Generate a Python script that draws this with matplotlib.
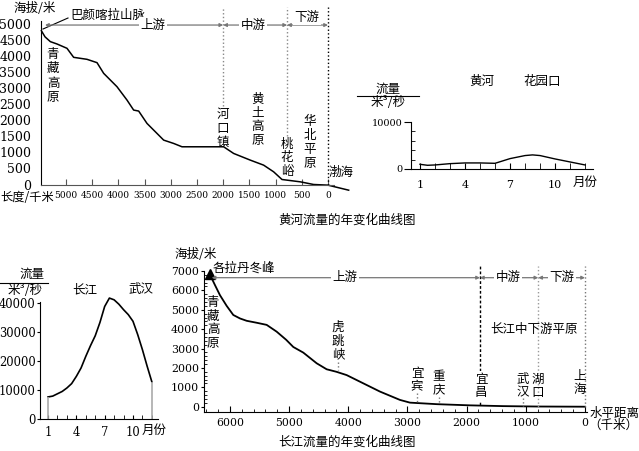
import matplotlib
matplotlib.use("Agg")
import matplotlib.pyplot as plt

plt.rcParams['font.family'] = ['Noto Sans CJK SC', 'DejaVu Sans']
plt.rcParams['font.size'] = 9

# 黄河纵剖面：距河口长度(千米)、海拔(米)
hh_km = [5470, 5400, 5299, 5172, 4981, 4854, 4599, 4408, 4281, 4154, 4027, 3836,
         3709, 3613, 3454, 3263, 3136, 2945, 2786, 2436, 1991, 1800, 1482, 1228,
         1037, 878, 528, 274, 0, -395]
hh_elev = [4790, 4600, 4451, 4378, 4243, 3962, 3900, 3796, 3463, 3255, 3047, 2631,
           2319, 2288, 1903, 1591, 1383, 1279, 1175, 1175, 1175, 967, 759, 603,
           395, 156, 83, 0, -20, -177]
hh_bounds = [2000, 780, 0]          # 上游/中游/下游 分界

# 黄河 花园口 流量(米³/秒)
hyk_month = [1, 1.5, 2, 3, 4, 5, 6, 7, 8, 8.5, 9, 10, 11, 12]
hyk_flow = [1000, 790, 860, 1140, 1290, 1290, 1210, 2210, 2860, 3000, 2860, 2140, 1500, 860]

# 长江 武汉 流量(米³/秒)
wh_month = [1, 1.5, 2, 2.5, 3, 3.5, 4, 4.5, 5, 5.5, 6, 6.5, 7, 7.5, 8, 8.5, 9, 9.5,
            10, 10.5, 11, 11.5, 12]
wh_flow = [7600, 7900, 8700, 9500, 10700, 12200, 14700, 17600, 21600, 25300, 28700,
           33300, 38800, 41700, 41100, 39600, 37700, 36000, 33700, 29100, 23900,
           18200, 12800]

# 长江纵剖面：水平距离(千米)、海拔(米)
cj_km = [6345, 6250, 6169, 6056, 5944, 5830, 5718, 5550, 5380, 5211, 5050, 4930,
         4761, 4535, 4366, 4200, 4028, 3803, 3465, 3127, 2958, 2500, 1944, 1380, 817, 0]
cj_elev = [6850, 6250, 5750, 5200, 4730, 4550, 4430, 4330, 4220, 3870, 3450, 3080,
           2790, 2240, 1930, 1800, 1630, 1290, 780, 350, 210, 130, 70, 30, 10, 0]
cj_bounds = [1775, 790, 0]          # 宜昌、湖口、上海

W, H = 639, 451
fig = plt.figure(figsize=(6.39, 4.51), dpi=100)


def box(l, t, r, b):
    return [l / W, 1 - b / H, (r - l) / W, (b - t) / H]


def put(x, y, s, ha='center', va='center', **kw):
    fig.text(x / W, 1 - y / H, s, ha=ha, va=va, **kw)


def vput(x, y, s, sp=1.08, **kw):
    put(x, y, '\n'.join(s), linespacing=sp, **kw)


white = dict(fc='white', ec='none', pad=1)
serif = 'DejaVu Serif'


def span(ax, x0, x1, y):
    ax.annotate('', xy=(x1, y), xytext=(x0, y),
                arrowprops=dict(arrowstyle='<|-|>', color='#777', lw=0.9,
                                mutation_scale=5, shrinkA=0, shrinkB=0))


# ---------- 黄河纵剖面 ----------
ax1 = fig.add_axes(box(41, 7, 334, 184.5))
ax1.set_xlim(5477, -115)
ax1.set_ylim(0, 5530)
ax1.plot(hh_km, hh_elev, color='k', lw=1.1, clip_on=False)
for s in ['top', 'right']:
    ax1.spines[s].set_visible(False)
ax1.spines['left'].set_bounds(0, 5100)
ax1.spines['bottom'].set_color('#555')
ax1.set_yticks(range(0, 5001, 500))
ax1.set_yticks(range(0, 5001, 1000), minor=True)
ax1.tick_params(axis='y', which='major', length=0, pad=7, labelsize=9, labelfontfamily=serif)
ax1.tick_params(axis='y', which='minor', length=5, direction='out')
ax1.set_xticks(range(0, 5001, 500))
ax1.tick_params(axis='x', direction='in', length=4, pad=5, labelsize=6.5,
                labelfontfamily=serif, color='#555')
ax1.plot([hh_bounds[0]] * 2, [2445, 5530], color='#888', ls=':', lw=1)
ax1.plot([hh_bounds[1]] * 2, [1511, 5530], color='#888', ls=':', lw=1)
ax1.plot([hh_bounds[2]] * 2, [0, 5530], color='k', ls=':', lw=1)
span(ax1, 5400, hh_bounds[0], 4968)
span(ax1, hh_bounds[0], hh_bounds[1], 4968)
span(ax1, hh_bounds[1], hh_bounds[2], 4968)
ax1.plot([5439, 4962], [4844, 5187], color='k', lw=0.8)

put(35, 8, '海拔/米')
put(70, 15, '巴颜喀拉山脉', ha='left')
put(153, 25, '上游', bbox=white)
put(253, 25, '中游', bbox=white)
put(307, 17, '下游', bbox=white)
vput(53, 76, '青藏高原', sp=1.13)
vput(223, 128.5, '河口镇')
vput(258, 120, '黄土高原')
vput(287, 158, '桃花峪')
vput(310, 142.5, '华北平原')
put(329, 172, '渤海', ha='left')
put(27, 197.5, '长度/千米', fontsize=8.8)
put(347, 220, '黄河流量的年变化曲线图')

# ---------- 黄河 花园口 流量 ----------
ax2 = fig.add_axes(box(411, 122, 593, 169))
ax2.set_xlim(0.4, 12.53)
ax2.set_ylim(0, 10000)
ax2.plot(hyk_month, hyk_flow, color='k', lw=1)
for s in ['top', 'right']:
    ax2.spines[s].set_visible(False)
ax2.set_yticks([0, 10000])
ax2.set_yticks(range(2000, 10000, 2000), minor=True)
ax2.tick_params(axis='y', which='major', direction='out', length=5, pad=1,
                labelsize=7, labelfontfamily=serif)
ax2.tick_params(axis='y', which='minor', direction='in', length=3)
ax2.set_xticks([1, 4, 7, 10])
ax2.set_xticks(range(1, 13), minor=True)
ax2.tick_params(axis='x', which='both', direction='in', length=4, pad=8,
                labelsize=8, labelfontfamily=serif)
put(388, 89, '流量')
fig.add_artist(plt.Line2D([357 / W, 419 / W], [1 - 96 / H] * 2, color='k', lw=0.8))
put(388, 103, '米³/秒')
put(482, 81, '黄河')
put(542, 81, '花园口')
put(585, 182, '月份')

# ---------- 长江 武汉 流量 ----------
ax3 = fig.add_axes(box(40, 297, 158, 419))
ax3.set_xlim(0.15, 12.65)
ax3.set_ylim(0, 42070)
ax3.plot(wh_month, wh_flow, color='k', lw=1.2)
ax3.vlines([wh_month[0], wh_month[-1]], 0, [wh_flow[0], wh_flow[-1]], color='#aaa', lw=1.2)
for s in ['top', 'right']:
    ax3.spines[s].set_visible(False)
ax3.spines['left'].set_bounds(0, 40500)
ax3.set_yticks(range(0, 40001, 10000))
ax3.tick_params(axis='y', direction='out', length=2, pad=1, labelsize=8.3, labelfontfamily=serif)
ax3.set_xticks([1, 4, 7, 10])
ax3.set_xticks(range(1, 13), minor=True)
ax3.tick_params(axis='x', which='both', direction='in', length=3, pad=5,
                labelsize=8.3, labelfontfamily=serif)
put(32, 274, '流量')
fig.add_artist(plt.Line2D([0, 48 / W], [1 - 283 / H] * 2, color='k', lw=0.8))
put(25, 290, '米³/秒')
put(85, 290, '长江')
put(141, 290, '武汉')
put(154, 430, '月份')

# ---------- 长江纵剖面 ----------
ax4 = fig.add_axes(box(204, 266, 587, 412))
ax4.set_xlim(6439, -34)
ax4.set_ylim(-273, 7256)
ax4.plot(cj_km, cj_elev, color='k', lw=1.3)
ax4.plot(cj_km[0], cj_elev[0], marker='^', ms=7, color='k')
for s in ['top', 'right']:
    ax4.spines[s].set_visible(False)
ax4.spines['left'].set_bounds(-273, 7000)
ax4.set_yticks(range(0, 7001, 1000))
ax4.set_yticks(range(0, 7001, 200), minor=True)
ax4.tick_params(axis='y', which='major', direction='out', length=2.5, pad=1,
                labelsize=7.9, labelfontfamily=serif)
ax4.tick_params(axis='y', which='minor', direction='in', length=2)
ax4.set_xticks(range(0, 6001, 1000))
ax4.set_xticks(range(0, 6401, 200), minor=True)
ax4.tick_params(axis='x', which='major', direction='in', length=4, pad=4,
                labelsize=7.8, labelfontfamily=serif)
ax4.tick_params(axis='x', which='minor', direction='in', length=2.5)
ax4.plot([cj_bounds[0]] * 2, [70, 7256], color='k', ls=(0, (2, 1.5)), lw=1)
ax4.plot([cj_bounds[1]] * 2, [10, 7256], color='#999', ls=':', lw=1)
ax4.plot([cj_bounds[2]] * 2, [0, 7256], color='#777', ls=':', lw=1)
for k, y0, y1 in [(4174, 2320, 1893), (2839, 690, 258), (2467, 516, 139), (1048, 433, 20)]:
    ax4.plot([k, k], [y0, y1], color='#777', ls=':', lw=1)
span(ax4, 6309, cj_bounds[0], 6653)
span(ax4, cj_bounds[0], cj_bounds[1], 6653)
span(ax4, cj_bounds[1], cj_bounds[2], 6653)

put(196, 254, '海拔/米')
put(213, 268, '各拉丹冬峰', ha='left')
put(345, 278, '上游', bbox=white)
put(508, 278, '中游', bbox=white)
put(562, 278, '下游', bbox=white)
vput(213, 323, '青藏高原', sp=1.05)
vput(338, 341, '虎跳峡')
vput(417, 380, '宜宾')
vput(439, 384, '重庆')
vput(481, 386, '宜昌', bbox=white)
vput(523, 386, '武汉')
vput(538, 386, '湖口')
vput(580, 383, '上海')
put(534, 330, '长江中下游平原')
put(590, 413, '水平距离', ha='left')
put(613, 425, '（千米）')
put(347, 442, '长江流量的年变化曲线图')

fig.savefig('out.png', dpi=100)
